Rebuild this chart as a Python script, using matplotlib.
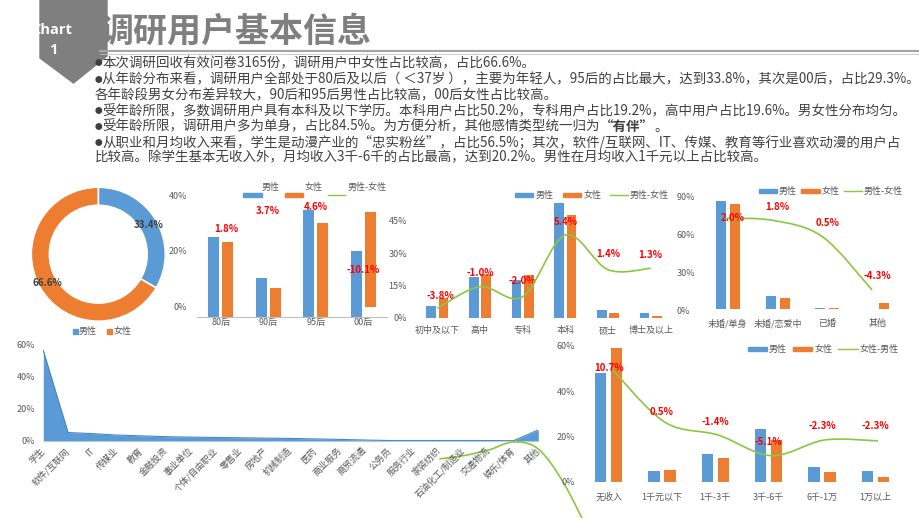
import matplotlib
matplotlib.use('Agg')
import matplotlib.pyplot as plt
from matplotlib.patches import Polygon, Rectangle, PathPatch
from matplotlib.path import Path
from matplotlib.lines import Line2D
import numpy as np

plt.rcParams['font.family'] = ['Noto Sans CJK SC', 'DejaVu Sans']

# ---------------- data ----------------
title = '调研用户基本信息'
bullets = [
    '●本次调研回收有效问卷3165份，调研用户中女性占比较高，占比66.6%。',
    '●从年龄分布来看，调研用户全部处于80后及以后（ ＜37岁 ），主要为年轻人，95后的占比最大，达到33.8%，其次是00后，占比29.3%。',
    '各年龄段男女分布差异较大，90后和95后男性占比较高，00后女性占比较高。',
    '●受年龄所限，多数调研用户具有本科及以下学历。本科用户占比50.2%，专科用户占比19.2%，高中用户占比19.6%。男女性分布均匀。',
    '●受年龄所限，调研用户多为单身，占比84.5%。为方便分析，其他感情类型统一归为',
    '●从职业和月均收入来看，学生是动漫产业的“忠实粉丝”，占比56.5%；其次，软件/互联网、IT、传媒、教育等行业喜欢动漫的用户占',
    '比较高。除学生基本无收入外，月均收入3千-6千的占比最高，达到20.2%。男性在月均收入1千元以上占比较高。',
]
bullet_bold = '“有伴”'
bullet_tail = '。'

gender_labels = ['男性', '女性']
gender_share = [33.4, 66.6]

age_cats = ['80后', '90后', '95后', '00后']
age_male = [28.7, 14.0, 38.3, 23.7]
age_female = [26.9, 10.3, 33.7, 33.8]
age_female_base = [0, 0, 0, 3.6]
age_diff_lbl = ['1.8%', '3.7%', '4.6%', '-10.1%']
age_lbl_y = [31.4, 37.9, 39.3, 16.7]
age_ticks = [0, 20, 40]

edu_cats = ['初中及以下', '高中', '专科', '本科', '硕士', '博士及以上']
edu_male = [5.5, 19.1, 17.6, 53.2, 3.6, 2.1]
edu_female = [9.3, 20.1, 19.6, 47.8, 2.2, 0.8]
edu_line = [1.3, 18.5, 10.6, 59.5, 32.0, 33.1]
edu_diff_lbl = ['-3.8%', '-1.0%', '-2.0%', '5.4%', '1.4%', '1.3%']
edu_lbl_y = [10.1, 20.7, 17.0, 44.4, 29.6, 29.1]
edu_ticks = [0, 15, 30, 45]
edu_rticks = [0, 30, 60, 90]

mar_cats = ['未婚/单身', '未婚/恋爱中', '已婚', '其他']
mar_male = [85.9, 10.6, 1.3, 0.5]
mar_female = [83.9, 8.8, 0.8, 4.8]
mar_line = [72.2, 70.6, 57.6, 15.3]
mar_diff_lbl = ['2.0%', '1.8%', '0.5%', '-4.3%']
mar_lbl_y = [72.7, 81.0, 68.3, 26.4]

occ_cats = ['学生', '软件/互联网', 'IT', '传媒业', '教育', '金融投资', '事业单位',
            '个体/自由职业', '零售业', '房地产', '机械制造', '医药', '商业服务',
            '商贸流通', '公务员', '服务行业', '家装纺织', '石油化工/制造业',
            '交通物流', '娱乐/体育', '其他']
occ_share = [56.5, 5.3, 4.6, 3.7, 3.2, 2.7, 2.4, 2.2, 2.0, 1.8, 1.6, 1.3, 1.0,
             0.6, 0.3, 0.3, 0.3, 0.3, 0.3, 0.2, 6.9]
occ_line_x = [16, 17, 18, 19, 20, 21, 22]
occ_line = [-11.2, -9.1, -5.6, -0.6, -5.0, -25.6, -55.6]
occ_ticks = [0, 20, 40, 60]

inc_cats = ['无收入', '1千元以下', '1千-3千', '3千-6千', '6千-1万', '1万以上']
inc_male = [48.1, 4.5, 12.0, 23.4, 6.4, 4.5]
inc_female = [58.8, 5.0, 10.6, 18.3, 4.1, 2.2]
inc_line = [50.0, 26.3, 20.6, 11.5, 18.4, 18.0]
inc_diff_lbl = ['10.7%', '0.5%', '-1.4%', '-5.1%', '-2.3%', '-2.3%']
inc_lbl_y = [50.3, 30.9, 26.2, 17.4, 24.6, 24.6]
inc_ticks = [0, 20, 40, 60]

# ---------------- style ----------------
BLUE = '#5b9bd5'
ORANGE = '#ed7d31'
GREEN = '#8cc63f'
RED = '#ff0000'
GRAY = '#595959'
TXT = '#404040'
W, H = 920, 518

fig = plt.figure(figsize=(9.2, 5.18), dpi=100)


def px_axes(x0, y0, x1, y1):
    return fig.add_axes([x0 / W, 1 - y1 / H, (x1 - x0) / W, (y1 - y0) / H])


def fx(x):
    return x / W


def fy(y):
    return 1 - y / H


def style(ax):
    ax.set_facecolor('none')
    for s in ax.spines.values():
        s.set_visible(False)
    ax.tick_params(length=0, colors=GRAY, labelsize=6.5)


def smooth(ax, xs, ys, color, lw=1.2, clip=True):
    P = np.column_stack([xs, ys]).astype(float)
    n = len(P)
    verts = [P[0]]
    codes = [Path.MOVETO]
    for i in range(n - 1):
        p0 = P[i - 1] if i > 0 else P[i]
        p1 = P[i]
        p2 = P[i + 1]
        p3 = P[i + 2] if i + 2 < n else P[i + 1]
        verts += [p1 + (p2 - p0) / 6, p2 - (p3 - p1) / 6, p2]
        codes += [Path.CURVE4] * 3
    ax.add_patch(PathPatch(Path(verts, codes), fill=False, edgecolor=color,
                           lw=lw, transform=ax.transData, clip_on=clip))


def bars(ax, cats, male, female, fbase=None, w=0.22, off=0.145):
    x = np.arange(len(cats))
    if fbase is None:
        fbase = [0] * len(cats)
    ax.bar(x - off, male, w, color=BLUE)
    ax.bar(x + off, female, w, bottom=fbase, color=ORANGE)
    ax.set_xticks(x)
    ax.set_xticklabels(cats)
    ax.set_xlim(-0.5, len(cats) - 0.5)


def red_labels(ax, labels, ys, dx=None):
    for i, (s, y) in enumerate(zip(labels, ys)):
        xo = 0 if dx is None else dx[i]
        ax.text(i + xo, y, s, color=RED, fontsize=7, fontweight='bold',
                ha='center', va='center')


def leg_patch(x0, x1, y, color, h=4.5):
    fig.patches.append(Rectangle((fx(x0), fy(y + h / 2)), (x1 - x0) / W, h / H,
                                 transform=fig.transFigure, color=color))


def leg_line(x0, x1, y, color):
    fig.lines.append(Line2D([fx(x0), fx(x1)], [fy(y), fy(y)],
                            transform=fig.transFigure, color=color, lw=1))


def leg_text(x, y, s, ha='left'):
    fig.text(fx(x), fy(y), s, fontsize=6.5, color=GRAY, ha=ha, va='center')


# ---------------- header ----------------
fig.patches.append(Polygon([(fx(40), fy(0)), (fx(107), fy(0)), (fx(107), fy(56)),
                            (fx(73.5), fy(83)), (fx(40), fy(58))], closed=True,
                           transform=fig.transFigure, color='#7f7f7f'))
fig.text(fx(52), fy(30), 'Chart', color='white', fontsize=10.5, fontweight='bold',
         ha='center', va='center', family=['Open Sans', 'DejaVu Sans'])
fig.text(fx(53), fy(50), '1', color='white', fontsize=10.5, fontweight='bold',
         ha='center', va='center', family=['Open Sans', 'DejaVu Sans'])
fig.text(fx(100), fy(31), title, color='#7f7f7f', fontsize=24.5, fontweight='bold',
         ha='left', va='center')
fig.lines.append(Line2D([fx(100), fx(920)], [fy(51), fy(51)], transform=fig.transFigure,
                        color='#a6a6a6', lw=1.6))
fig.lines.append(Line2D([fx(100), fx(920)], [fy(53.5), fy(53.5)], transform=fig.transFigure,
                        color='#bfbfbf', lw=0.6))

BFS = 9.7
line_y = [63, 79.5, 95, 111, 126.5, 142, 157.5]
txts = []
for s, y in zip(bullets, line_y):
    if s.startswith('●'):
        fig.text(fx(95), fy(y + 0.5), s[0], color=TXT, fontsize=5.5, ha='left', va='center')
        txts.append(fig.text(fx(102.5), fy(y), s[1:], color=TXT, fontsize=BFS,
                             ha='left', va='center'))
    else:
        txts.append(fig.text(fx(95), fy(y), s, color=TXT, fontsize=BFS,
                             ha='left', va='center'))
fig.canvas.draw()
r = fig.canvas.get_renderer()
bb = txts[4].get_window_extent(r)
tb = fig.text(bb.x1 / W, fy(line_y[4]), bullet_bold, color=TXT, fontsize=BFS,
              fontweight='bold', ha='left', va='center')
bb2 = tb.get_window_extent(r)
fig.text(bb2.x1 / W, fy(line_y[4]), bullet_tail, color=TXT, fontsize=BFS,
         ha='left', va='center')

# ---------------- donut ----------------
axd = px_axes(31.3, 187.2, 165.3, 321.2)
axd.pie(gender_share, colors=[BLUE, ORANGE], startangle=90, counterclock=False,
        wedgeprops=dict(width=0.27, edgecolor='white', linewidth=1.2),
        autopct='%.1f%%', pctdistance=0.87,
        textprops=dict(color=TXT, fontsize=7, fontweight='bold'))
axd.set_xlim(-1, 1)
axd.set_ylim(-1, 1)
axd.set_aspect('auto')
leg_patch(72.5, 77.5, 331.7, BLUE, h=5)
leg_text(79, 331.7, gender_labels[0])
leg_patch(107, 112, 331.7, ORANGE, h=5)
leg_text(113.5, 331.7, gender_labels[1])

# ---------------- age ----------------
axa = px_axes(197, 180, 387, 316.7)
style(axa)
bars(axa, age_cats, age_male, age_female, fbase=age_female_base, w=0.23, off=0.147)
axa.set_ylim(0, (316.7 - 180) / 2.79)
axa.set_yticks([t + age_female_base[3] for t in age_ticks])
axa.set_yticklabels([f'{t}%' for t in age_ticks])
axa.tick_params(axis='y', pad=7.2)
axa.tick_params(axis='x', pad=1)
axa.spines['bottom'].set_visible(True)
axa.spines['bottom'].set_color('#bfbfbf')
axa.spines['bottom'].set_linewidth(0.8)
red_labels(axa, age_diff_lbl, age_lbl_y, dx=[0.12, 0, 0, 0])
leg_text(271, 187, '男性', ha='center')
leg_patch(243, 262, 195, BLUE)
leg_text(314, 187, '女性', ha='center')
leg_patch(285, 303, 195, ORANGE)
leg_text(367, 187, '男性-女性', ha='center')
leg_line(328, 345, 195, GREEN)

# ---------------- education ----------------
axe = px_axes(416, 185, 672, 317.7)
style(axe)
bars(axe, edu_cats, edu_male, edu_female)
axe.set_ylim(0, (317.7 - 185) / 2.155)
axe.set_yticks(edu_ticks)
axe.set_yticklabels([f'{t}%' for t in edu_ticks])
axe.tick_params(axis='y', pad=6.5)
axe.tick_params(axis='x', pad=6)
axe.axhline(0, color='#d9d9d9', lw=0.8, ls=(0, (1, 1.5)))
axe2 = axe.twinx()
style(axe2)
axe2.set_autoscale_on(False)
smooth(axe2, np.arange(len(edu_cats)), edu_line, GREEN)
axe2.set_ylim(-(317.7 - 310) / 1.26, (310 - 185) / 1.26)
axe2.set_xlim(-0.5, len(edu_cats) - 0.5)
axe2.set_yticks(edu_rticks)
axe2.set_yticklabels([f'{t}%' for t in edu_rticks])
axe2.tick_params(axis='y', pad=3.6)
red_labels(axe, edu_diff_lbl, edu_lbl_y, dx=[0.08, 0, 0, 0, 0, 0])
leg_patch(515, 533, 195, BLUE)
leg_text(536, 195, '男性')
leg_patch(563, 581, 195, ORANGE)
leg_text(583.5, 195, '女性')
leg_line(610, 628, 195, GREEN)
leg_text(630, 195, '男性-女性')

# ---------------- marital ----------------
axm = px_axes(703, 185, 902, 309.3)
style(axm)
bars(axm, mar_cats, mar_male, mar_female, w=0.2, off=0.14)
axm.set_autoscale_on(False)
axm.set_ylim(0, (309.3 - 185) / 1.26)
axm.set_yticks([])
axm.tick_params(axis='x', pad=7)
axm.axhline(0, color='#d9d9d9', lw=0.8, ls=(0, (1, 1.5)))
smooth(axm, np.arange(len(mar_cats)) - 0.1, mar_line, GREEN)
red_labels(axm, mar_diff_lbl, mar_lbl_y, dx=[0.1, 0, 0, 0])
leg_patch(759, 777, 191, BLUE)
leg_text(779, 191, '男性')
leg_patch(801, 820, 191, ORANGE)
leg_text(822, 191, '女性')
leg_line(844, 862, 191, GREEN)
leg_text(864, 191, '男性-女性')

# ---------------- occupation ----------------
axo = px_axes(43.3, 340, 538.3, 441)
style(axo)
xo = np.arange(len(occ_cats))
axo.fill_between(xo, 0, occ_share, color=BLUE, lw=0)
axo.plot(xo, occ_share, color='#4a86c5', lw=0.8)
axo.set_autoscale_on(False)
axo.set_xlim(0, len(occ_cats) - 1)
axo.set_ylim(0, (441 - 340) / 1.6)
axo.set_yticks(occ_ticks)
axo.set_yticklabels([f'{t}%' for t in occ_ticks])
axo.tick_params(axis='y', pad=6)
axo.set_xticks(xo)
axo.set_xticklabels(occ_cats, rotation=45, ha='right', va='center',
                    rotation_mode='anchor')
axo.tick_params(axis='x', pad=6)
axo.axhline(0, color='#bfbfbf', lw=0.8)
smooth(axo, occ_line_x, occ_line, GREEN, clip=False)

# ---------------- income ----------------
axi = px_axes(582, 340, 902, 481.7)
style(axi)
bars(axi, inc_cats, inc_male, inc_female, w=0.21, off=0.15)
axi.set_autoscale_on(False)
axi.set_ylim(0, (481.7 - 340) / 2.267)
axi.set_yticks(inc_ticks)
axi.set_yticklabels([f'{t}%' for t in inc_ticks])
axi.tick_params(axis='y', pad=5)
axi.tick_params(axis='x', pad=8)
axi.axhline(0, color='#d9d9d9', lw=0.8, ls=(0, (1, 1.5)))
smooth(axi, np.arange(len(inc_cats)) + 0.05, inc_line, GREEN)
red_labels(axi, inc_diff_lbl, inc_lbl_y)
leg_patch(748, 767, 349, BLUE)
leg_text(769, 349, '男性')
leg_patch(793, 812, 349, ORANGE)
leg_text(815, 349, '女性')
leg_line(838, 858, 349, GREEN)
leg_text(860, 349, '女性-男性')

fig.savefig('out.png', dpi=100)
